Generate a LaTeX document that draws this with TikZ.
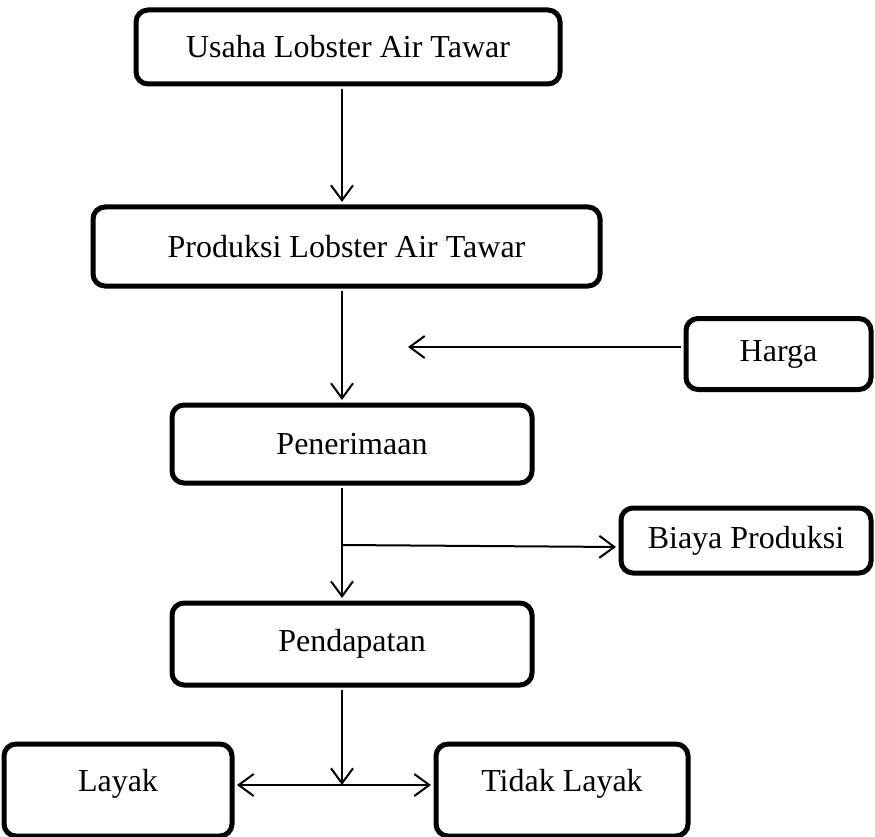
\documentclass[tikz,border=0pt]{standalone}
\usepackage{fontspec}
\setmainfont{Liberation Serif}
\usetikzlibrary{arrows.meta}
\begin{document}
\begin{tikzpicture}[x=1pt,y=-1pt,
  boxnode/.style={draw, line width=5pt, rounded corners=12pt, inner sep=0pt,
    font=\fontsize{32}{37}\selectfont, align=center},
  arr/.style={line width=2pt, -{Straight Barb[length=15pt,width=22pt,line width=2pt]}},
  arrtwo/.style={line width=2pt, {Straight Barb[length=15pt,width=22pt,line width=2pt]}-{Straight Barb[length=15pt,width=22pt,line width=2pt]}}]
\useasboundingbox (0,0) rectangle (875,837);
\node[boxnode, minimum width=424pt, minimum height=74pt] (u) at (348,47) {Usaha Lobster Air Tawar};
\node[boxnode, minimum width=507pt, minimum height=79pt] (p) at (346.5,246.5) {Produksi Lobster Air Tawar};
\node[boxnode, minimum width=185pt, minimum height=71pt] (h) at (778.5,354) {Harga};
\node[boxnode, minimum width=360pt, minimum height=78pt] (pe) at (352,444) {Penerimaan};
\node[boxnode, minimum width=250pt, minimum height=65pt] (b) at (746,540.5) {Biaya Produksi};
\node[boxnode, minimum width=360pt, minimum height=82pt] (pd) at (352,644) {Pendapatan};
\node[boxnode, minimum width=228pt, minimum height=92pt, text height=22pt, text depth=20pt] (l) at (118,790) {Layak};
\node[boxnode, minimum width=252pt, minimum height=92pt, text height=22pt, text depth=20pt] (t) at (562,790) {Tidak Layak};
\coordinate (vx) at (342,0);
\coordinate (ha) at (408,347);
\coordinate (bs) at (342,545);
\coordinate (m) at (342,785);
\draw[arr, shorten <=2.5pt, shorten >=2.5pt] (vx |- u.south) -- (vx |- p.north);
\draw[arr, shorten <=2.5pt, shorten >=2.5pt] (vx |- p.south) -- (vx |- pe.north);
\draw[arr, shorten <=2.5pt] (h.west |- ha) -- (ha);
\draw[line width=2pt, shorten <=2.5pt] (vx |- pe.south) -- (bs);
\draw[arr, shorten >=2.5pt] (bs) -- ([yshift=-6.5pt]b.west);
\draw[arr, shorten >=2.5pt] (bs) -- (vx |- pd.north);
\draw[arr, shorten <=2.5pt] (vx |- pd.south) -- (m);
\draw[arrtwo, shorten <=2.5pt, shorten >=2.5pt] (l.east |- m) -- (t.west |- m);
\end{tikzpicture}
\end{document}
